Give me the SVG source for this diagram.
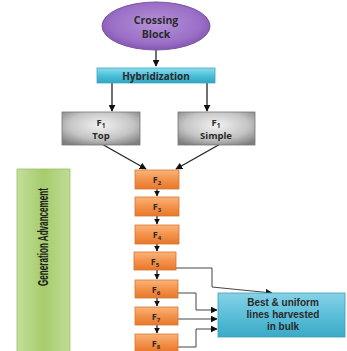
<svg xmlns="http://www.w3.org/2000/svg" width="347" height="351" viewBox="0 0 347 351">
<defs>
<radialGradient id="gPurple" cx="50%" cy="45%" r="60%">
<stop offset="0" stop-color="#b592d8"/>
<stop offset="0.7" stop-color="#9a6ec6"/>
<stop offset="1" stop-color="#7b4ea8"/>
</radialGradient>
<linearGradient id="gCyan" x1="0" y1="0" x2="0" y2="1">
<stop offset="0" stop-color="#8fdcec"/>
<stop offset="0.5" stop-color="#4cc0da"/>
<stop offset="1" stop-color="#2fa6c2"/>
</linearGradient>
<radialGradient id="gGray" cx="50%" cy="40%" r="70%">
<stop offset="0" stop-color="#f2f2f2"/>
<stop offset="0.6" stop-color="#c4c4c4"/>
<stop offset="1" stop-color="#7e7e7e"/>
</radialGradient>
<linearGradient id="gOrange" x1="0" y1="0" x2="0" y2="1">
<stop offset="0" stop-color="#fbb47c"/>
<stop offset="0.5" stop-color="#f3924a"/>
<stop offset="1" stop-color="#e7782c"/>
</linearGradient>
<linearGradient id="gGreen" x1="0" y1="0" x2="1" y2="0">
<stop offset="0" stop-color="#c4de9c"/>
<stop offset="0.5" stop-color="#a6cc6c"/>
<stop offset="1" stop-color="#c0dc96"/>
</linearGradient>
<linearGradient id="gTeal" x1="0" y1="0" x2="0" y2="1">
<stop offset="0" stop-color="#86d2e6"/>
<stop offset="0.5" stop-color="#5cbfd9"/>
<stop offset="1" stop-color="#3aaac6"/>
</linearGradient>
<marker id="ah" viewBox="0 0 10 10" refX="9" refY="5" markerWidth="7" markerHeight="7" orient="auto" markerUnits="userSpaceOnUse">
<path d="M0,0 L10,5 L0,10 z" fill="#111"/>
</marker>
<marker id="ahs" viewBox="0 0 10 10" refX="9" refY="5" markerWidth="6" markerHeight="6" orient="auto" markerUnits="userSpaceOnUse">
<path d="M0,0 L10,5 L0,10 z" fill="#111"/>
</marker>
</defs>
<style>
.t{font-family:"Open Sans","Liberation Sans",sans-serif;font-weight:bold;fill:#2a2a2a;text-anchor:middle}
.tl{font-family:"Liberation Sans","Open Sans",sans-serif;font-weight:bold;fill:#2a2a2a;text-anchor:middle}
.c{fill:none;stroke:#222;stroke-width:1.3}
.cg{fill:none;stroke:#444;stroke-width:1}
.fb{fill:url(#gOrange);stroke:#d8742c;stroke-width:0.8}
</style>
<rect width="347" height="351" fill="#ffffff"/>

<g id="connectors">
<path class="c" d="M156,50 V66" marker-end="url(#ah)"/>
<path class="c" d="M112,83 V111" marker-end="url(#ah)"/>
<path class="c" d="M207,83 V111" marker-end="url(#ah)"/>
<path class="c" d="M100,143 L146,169" marker-end="url(#ah)"/>
<path class="c" d="M222,143 L176,169" marker-end="url(#ah)"/>
<path class="c" d="M157,189 V196" marker-end="url(#ahs)"/>
<path class="c" d="M157,216 V224" marker-end="url(#ahs)"/>
<path class="c" d="M157,244 V251" marker-end="url(#ahs)"/>
<path class="c" d="M157,270 V279" marker-end="url(#ahs)"/>
<path class="c" d="M157,298 V306" marker-end="url(#ahs)"/>
<path class="c" d="M157,325 V333" marker-end="url(#ahs)"/>
<path class="cg" d="M176,268 H212 V287 L272,293" marker-end="url(#ah)"/>
<path class="cg" d="M178,293 H196 V310 H217" marker-end="url(#ah)"/>
<path class="cg" d="M178,319 H217" marker-end="url(#ah)"/>
<path class="cg" d="M178,347 H196 V329 H217" marker-end="url(#ah)"/>
</g>

<g id="crossing-block">
<ellipse cx="156" cy="26" rx="54" ry="24" fill="url(#gPurple)" stroke="#7a56a0" stroke-width="1"/>
<text class="t" x="156" y="24" font-size="10.5">Crossing</text>
<text class="t" x="156" y="38" font-size="10.5">Block</text>
</g>

<g id="hybridization">
<rect x="97" y="68" width="118" height="15" fill="url(#gCyan)" stroke="#3aa8c0" stroke-width="0.8"/>
<text class="t" x="156" y="79.5" font-size="10">Hybridization</text>
</g>

<g id="f1-top">
<rect x="62" y="112" width="78" height="33" fill="url(#gGray)" stroke="#777" stroke-width="0.8"/>
<text class="t" x="101" y="126" font-size="9.5">F<tspan font-size="6.5" dy="2">1</tspan></text>
<text class="t" x="101" y="139" font-size="9.5">Top</text>
</g>

<g id="f1-simple">
<rect x="178" y="112" width="77" height="33" fill="url(#gGray)" stroke="#777" stroke-width="0.8"/>
<text class="t" x="216" y="126" font-size="9.5">F<tspan font-size="6.5" dy="2">1</tspan></text>
<text class="t" x="216" y="139" font-size="9.5">Simple</text>
</g>

<g id="generation-advancement">
<rect x="17" y="169" width="53" height="190" fill="url(#gGreen)" stroke="#9cc068" stroke-width="0.8"/>
<text class="tl" transform="translate(48,237) rotate(-90)" font-size="14.5" textLength="98" lengthAdjust="spacingAndGlyphs" style="fill:#1e1e1e">Generation Advancement</text>
</g>

<g id="f2"><rect class="fb" x="135" y="170" width="44" height="19"/><text class="t" x="157" y="183" font-size="9">F<tspan font-size="6" dy="1.5">2</tspan></text></g>
<g id="f3"><rect class="fb" x="135" y="197" width="44" height="19"/><text class="t" x="157" y="210" font-size="9">F<tspan font-size="6" dy="1.5">3</tspan></text></g>
<g id="f4"><rect class="fb" x="135" y="225" width="44" height="19"/><text class="t" x="157" y="238" font-size="9">F<tspan font-size="6" dy="1.5">4</tspan></text></g>
<g id="f5"><rect class="fb" x="134" y="252" width="42" height="18"/><text class="t" x="155" y="265" font-size="9">F<tspan font-size="6" dy="1.5">5</tspan></text></g>
<g id="f6"><rect class="fb" x="135" y="280" width="43" height="18"/><text class="t" x="156" y="293" font-size="9">F<tspan font-size="6" dy="1.5">6</tspan></text></g>
<g id="f7"><rect class="fb" x="135" y="307" width="43" height="18"/><text class="t" x="156" y="320" font-size="9">F<tspan font-size="6" dy="1.5">7</tspan></text></g>
<g id="f8"><rect class="fb" x="135" y="334" width="43" height="18"/><text class="t" x="156" y="347" font-size="9">F<tspan font-size="6" dy="1.5">8</tspan></text></g>

<g id="best-uniform">
<rect x="218" y="293" width="127" height="44" fill="url(#gTeal)" stroke="#3a9fb8" stroke-width="0.8"/>
<text class="tl" x="283" y="306" font-size="10">Best &amp; uniform</text>
<text class="tl" x="283" y="318" font-size="10">lines harvested</text>
<text class="tl" x="283" y="330" font-size="10">in bulk</text>
</g>
</svg>
